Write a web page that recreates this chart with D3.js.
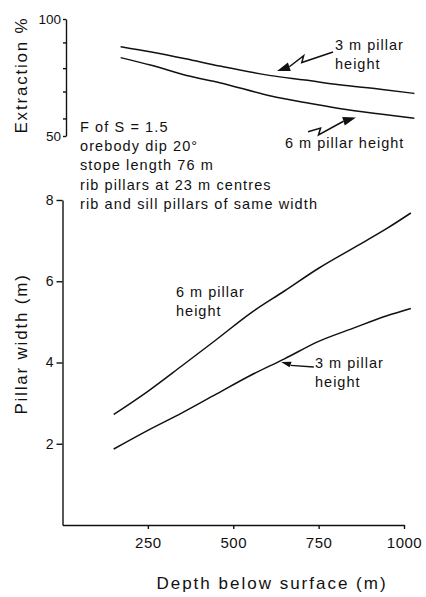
<!DOCTYPE html>
<html><head><meta charset="utf-8">
<script src="https://cdn.jsdelivr.net/npm/d3@7"></script>
<style>
html,body{margin:0;padding:0;background:#fff;}
svg text{font-family:"Liberation Sans",Arial,Helvetica,sans-serif;fill:#111;}
</style></head>
<body><svg id="c" width="426" height="597"></svg>
<script>
// ---- data ----
const depthBottom = [150, 250, 350, 450, 550, 650, 750, 850, 950, 1020];
const width6m = [2.72, 3.29, 3.92, 4.56, 5.21, 5.76, 6.32, 6.81, 7.30, 7.68];
const width3m = [1.87, 2.33, 2.76, 3.22, 3.68, 4.09, 4.52, 4.84, 5.15, 5.33];
const depthTop = [160, 250, 350, 450, 600, 700, 800, 920, 1020];
const extraction3m = [88.2, 85.9, 83.0, 79.9, 75.8, 73.9, 71.9, 70.0, 68.2];
const extraction6m = [83.5, 80.2, 76.0, 72.8, 67.1, 64.3, 61.8, 59.4, 57.6];
const depthTicks = [250, 500, 750, 1000];
const widthTicks = [2, 4, 6, 8];
const extractionLabelTicks = [50, 100];
const extractionMinorTicks = [90, 79, 69, 57.5];
const notes = ["F of S = 1.5", "orebody dip 20\u00b0", "stope length 76 m",
  "rib pillars at 23 m centres", "rib and sill pillars of same width"];

// ---- scales ----
const svg = d3.select("#c");
const x = d3.scaleLinear([0, 1000], [62.5, 404]);
const y = d3.scaleLinear([0, 8], [525, 200]);
const xTop = d3.scaleLinear([0, 1000], [66, 407.5]);
const yTop = d3.scaleLinear([50, 100], [136, 19]);
const ink = "#111";

// ---- bottom axes ----
const gx = svg.append("g").attr("transform", `translate(0,${y(0)})`)
  .call(d3.axisBottom(x).tickValues(depthTicks).tickFormat(d3.format("d"))
    .tickSizeInner(4).tickSizeOuter(0).tickPadding(8));
const gy = svg.append("g").attr("transform", `translate(${x(0)},0)`)
  .call(d3.axisLeft(y).tickValues(widthTicks).tickSizeInner(6).tickSizeOuter(0).tickPadding(3));
gx.selectAll("text").style("font-size", "15px").style("letter-spacing", "0.5px");
gy.selectAll("text").style("font-size", "14px");
// ---- top axis ----
const gyt = svg.append("g").attr("transform", `translate(${xTop(0)},0)`)
  .call(d3.axisLeft(yTop).tickValues(extractionLabelTicks.concat(extractionMinorTicks))
    .tickFormat(d => extractionLabelTicks.includes(d) ? d : "")
    .tickSizeInner(3).tickSizeOuter(0).tickPadding(2));
gyt.selectAll("text").style("font-size", "13.5px");
svg.selectAll(".domain, .tick line").attr("stroke", ink).attr("stroke-width", 1.4);
svg.selectAll(".tick text").attr("fill", ink);

// ---- curves ----
const lineB = d3.line().x(d => x(d[0])).y(d => y(d[1])).curve(d3.curveMonotoneX);
const lineT = d3.line().x(d => xTop(d[0])).y(d => yTop(d[1])).curve(d3.curveMonotoneX);
[[depthBottom, width6m, lineB], [depthBottom, width3m, lineB],
 [depthTop, extraction3m, lineT], [depthTop, extraction6m, lineT]].forEach(([xs, ys, ln]) => {
  svg.append("path").datum(xs.map((d, i) => [d, ys[i]]))
    .attr("d", ln).attr("fill", "none").attr("stroke", ink).attr("stroke-width", 1.5);
});

// ---- axis titles ----
svg.append("text").attr("transform", "translate(27,75) rotate(-90)")
  .attr("text-anchor", "middle").style("font-size", "17px").style("letter-spacing", "1.8px")
  .text("Extraction %");
svg.append("text").attr("transform", "translate(27,344) rotate(-90)")
  .attr("text-anchor", "middle").style("font-size", "17px").style("letter-spacing", "1.8px")
  .text("Pillar width (m)");
svg.append("text").attr("x", 272).attr("y", 589)
  .attr("text-anchor", "middle").style("font-size", "17px").style("letter-spacing", "2px")
  .text("Depth below surface (m)");

// ---- notes ----
svg.append("g").selectAll("text").data(notes).join("text")
  .attr("x", 80).attr("y", (d, i) => 132 + i * 19.2)
  .style("font-size", "14.5px").style("letter-spacing", "1.1px").text(d => d);

// ---- curve labels ----
function label(lines, px, py, size) {
  svg.append("g").selectAll("text").data(lines).join("text")
    .attr("x", px).attr("y", (d, i) => py + i * 18.5)
    .style("font-size", size).style("letter-spacing", "1px").text(d => d);
}
label(["3 m pillar", "height"], 335, 50, "14.5px");
label(["6 m pillar height"], 285, 148, "14.5px");
label(["6 m pillar", "height"], 176, 297, "14.5px");
label(["3 m pillar", "height"], 315, 368, "14.5px");

// ---- arrows ----
function bolt(tail, head, at, flip) {
  const [tx, ty] = tail, [hx, hy] = head;
  const L = Math.hypot(hx - tx, hy - ty);
  const ux = (hx - tx) / L, uy = (hy - ty) / L;
  const nx = -uy * flip, ny = ux * flip;
  const z1 = [tx + ux * at, ty + uy * at];
  const z2 = [z1[0] - ux * 4 + nx * 6, z1[1] - uy * 4 + ny * 6];
  const hb = [hx - ux * 13, hy - uy * 13];
  svg.append("path").attr("d", d3.line()([tail, z1, z2, hb]))
    .attr("fill", "none").attr("stroke", ink).attr("stroke-width", 1.5);
  svg.append("path").attr("d", d3.line()([[hx, hy],
      [hb[0] + nx * 4.5, hb[1] + ny * 4.5], [hb[0] - nx * 4.5, hb[1] - ny * 4.5]]) + "Z")
    .attr("fill", ink);
}
bolt([xTop(782), yTop(85.9)], [xTop(618), yTop(77.8)], 33, 1);
bolt([xTop(709), yTop(51.8)], [xTop(849), yTop(57.9)], 13, 1);
// bottom small arrow
{
  const tail = [x(736), y(3.89)], tip = [x(640), y(4.01)];
  const mid = [x(668), y(3.93)];
  svg.append("path").attr("d", d3.line()([tail, mid]))
    .attr("fill", "none").attr("stroke", ink).attr("stroke-width", 1.4);
  svg.append("path").attr("d", d3.line()([tip, [mid[0] + 1, mid[1] - 3.5], [mid[0] - 1, mid[1] + 2]]) + "Z")
    .attr("fill", ink);
}
</script></body></html>
